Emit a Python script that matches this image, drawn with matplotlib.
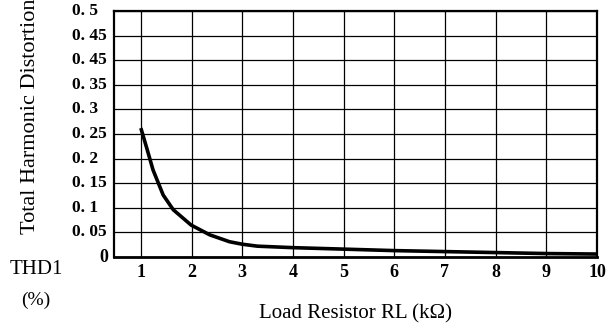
import numpy as np
import matplotlib.pyplot as plt

plt.rcParams['font.family'] = ['Liberation Serif', 'DejaVu Serif']

# THD vs load resistance
load_k = [1.0, 1.12, 1.24, 1.44, 1.64, 1.99, 2.36, 2.75, 3.0, 3.3, 4.0, 5.0, 6.0, 7.0, 8.0, 9.0, 10.0]
thd = [0.262, 0.22, 0.177, 0.126, 0.096, 0.065, 0.045, 0.031, 0.026, 0.022, 0.019, 0.016, 0.013, 0.011, 0.009, 0.007, 0.006]

x_ticks = list(range(1, 11))
y_ticks = [0.5, 0.45, 0.4, 0.35, 0.3, 0.25, 0.2, 0.15, 0.1, 0.05, 0.0]
y_tick_labels = ['0. 5', '0. 45', '0. 45', '0. 35', '0. 3', '0. 25', '0. 2', '0. 15', '0. 1', '0. 05', '0']

fig = plt.figure(figsize=(6.12, 3.31), dpi=100)
ax = fig.add_axes([114 / 612, 1 - 257 / 331, (597 - 114) / 612, (257 - 11) / 331])

ax.plot(load_k, thd, color='black', lw=2.6, solid_capstyle='butt', solid_joinstyle='round')

ax.set_xlim(0.47, 10)
ax.set_ylim(0, 0.5)
ax.set_xticks(x_ticks)
ax.set_xticklabels([str(t) for t in x_ticks], fontsize=13, fontweight='bold')
ax.set_yticks(y_ticks)
ax.set_yticklabels([])
ax.tick_params(length=0, pad=5)

# y labels: left-aligned column, the zero sits beside the corner
for v, lab in zip(y_ticks, y_tick_labels):
    if lab == '0':
        ax.text(-0.012, -0.002, lab, transform=ax.get_yaxis_transform(), ha='right', va='center',
                fontsize=13, fontweight='bold')
    else:
        ax.annotate(lab, xy=(0, v), xycoords=ax.get_yaxis_transform(), xytext=(-30.5, 0),
                    textcoords='offset points', ha='left', va='center', fontsize=12.5, fontweight='bold')

ax.grid(True, color='black', lw=0.9)
for s in ax.spines.values():
    s.set_linewidth(1.6)
ax.spines['bottom'].set_linewidth(2.0)

fig.text(31 / 612, 1 - 234 / 331, 'Total Harmonic Distortion', rotation=90, ha='center', va='bottom',
         fontsize=16)
fig.text(36 / 612, 1 - 270 / 331, 'THD1', ha='center', va='center', fontsize=15)
fig.text(36 / 612, 1 - 300 / 331, '(%)', ha='center', va='center', fontsize=14)
fig.text(355 / 612, 1 - 314 / 331, 'Load Resistor RL (k\u03a9)', ha='center', va='center', fontsize=15)

fig.savefig('out.png', dpi=100)
